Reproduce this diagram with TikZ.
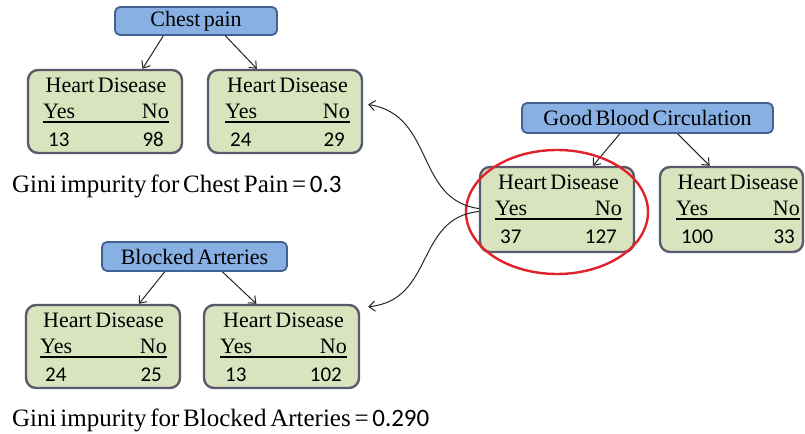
\documentclass[tikz,border=0pt]{standalone}
\usepackage{fontspec}
\setmainfont{Liberation Serif}[WordSpace=0.6]
\newfontfamily\numfont{Carlito}
\usetikzlibrary{arrows.meta,calc,fit}

\definecolor{leafgreen}{HTML}{D7E4BD}
\definecolor{leafedge}{HTML}{5A5A6C}
\definecolor{splitblue}{HTML}{88B0E2}
\definecolor{splitedge}{HTML}{41618F}
\definecolor{markred}{HTML}{E2222A}

\tikzset{
  leafbox/.style={draw=leafedge, fill=leafgreen, line width=2.4bp,
    rounded corners=10bp, inner sep=0pt},
  splitbox/.style={draw=splitedge, fill=splitblue, line width=1.8bp,
    rounded corners=5bp, inner sep=0pt, font=\fontsize{22bp}{26bp}\selectfont},
  txt/.style={inner sep=0pt, font=\fontsize{22bp}{26bp}\selectfont},
  num/.style={inner sep=0pt, font=\numfont\fontsize{21bp}{25bp}\selectfont},
  gini/.style={inner sep=0pt, font=\fontsize{25bp}{29bp}\selectfont},
  rowline/.style={line width=1.4bp, black},
  edge/.style={line width=1bp, black!85, -{Straight Barb[length=6bp,width=10bp]}},
}

% leaf table: name, left, top, right, bottom, inner left, inner right, yes, no
\newcommand{\diseasebox}[9]{%
  \path (#2,#3) coordinate (#1-nw) (#4,#5) coordinate (#1-se);
  \node[leafbox, fit=(#1-nw)(#1-se)] (#1) {};
  \node[txt, anchor=base] (#1-title) at ({(#6+#7)/2}, #3+23) {Heart Disease};
  \node[txt, anchor=base west] (#1-yes) at (#6, #3+49) {Yes};
  \node[txt, anchor=base east] (#1-no) at (#7, #3+49) {No};
  \draw[rowline] (#6, #3+52) -- (#7, #3+52);
  \node[num, anchor=base west] (#1-a) at (#6+5, #3+77) {#8};
  \node[num, anchor=base east] (#1-b) at (#7-5, #3+77) {#9};
}

\begin{document}
\begin{tikzpicture}[x=1bp, y=-1bp]
\useasboundingbox (0,0) rectangle (805,434);

% Chest pain split
\node[splitbox, minimum width=162bp, minimum height=28bp] (cp) at (196,21) {Chest pain};
\diseasebox{cpl}{28}{70}{182}{153}{43}{169}{13}{98}
\diseasebox{cpr}{208}{70}{362}{153}{225}{350}{24}{29}
\draw[edge] ($(cp.south west)!0.30!(cp.south east)$) -- ($(cpl.north west)!0.74!(cpl.north east)$);
\draw[edge] ($(cp.south west)!0.68!(cp.south east)$) -- ($(cpr.north west)!0.32!(cpr.north east)$);
\node[gini, anchor=base west] (gcp) at (12,193) {Gini impurity for Chest Pain = {\numfont 0.3}};

% Blocked arteries split
\node[splitbox, minimum width=185bp, minimum height=29bp] (ba) at (194.5,256.5) {Blocked Arteries};
\diseasebox{bal}{26}{305}{180}{388}{40}{167}{24}{25}
\diseasebox{bar}{204}{305}{359}{388}{220}{347}{13}{102}
\draw[edge] ($(ba.south west)!0.34!(ba.south east)$) -- ($(bal.north west)!0.73!(bal.north east)$);
\draw[edge] ($(ba.south west)!0.65!(ba.south east)$) -- ($(bar.north west)!0.34!(bar.north east)$);
\node[gini, anchor=base west] (gba) at (12,426) {Gini impurity for Blocked Arteries = {\numfont 0.290}};

% Good blood circulation split
\node[splitbox, minimum width=251bp, minimum height=30bp] (gbc) at (647.5,118) {Good Blood Circulation};
\diseasebox{gbl}{480}{167}{634}{252}{495}{622}{37}{127}
\diseasebox{gbr}{660}{167}{803}{252}{676}{800}{100}{33}
\draw[edge] ($(gbc.south west)!0.39!(gbc.south east)$) -- ($(gbl.north west)!0.73!(gbl.north east)$);
\draw[edge] ($(gbc.south west)!0.62!(gbc.south east)$) -- ($(gbr.north west)!0.35!(gbr.north east)$);

% highlight ring around the left leaf
\draw[markred, line width=2.4bp] (557,212) ellipse [x radius=91, y radius=62];

% curved links from the highlighted leaf to the other leaves
\coordinate (toptip) at ($(cpr.east)+(5,-7)$);
\coordinate (lowtip) at ($(bar.north east)+(8,3)$);
\draw[edge] ($(gbl.west)+(0,-1)$) .. controls (415,200) and (435,115) .. (toptip);
\draw[edge] ($(gbl.west)+(0,2)$) .. controls (415,218) and (435,300) .. (lowtip);
\end{tikzpicture}
\end{document}
